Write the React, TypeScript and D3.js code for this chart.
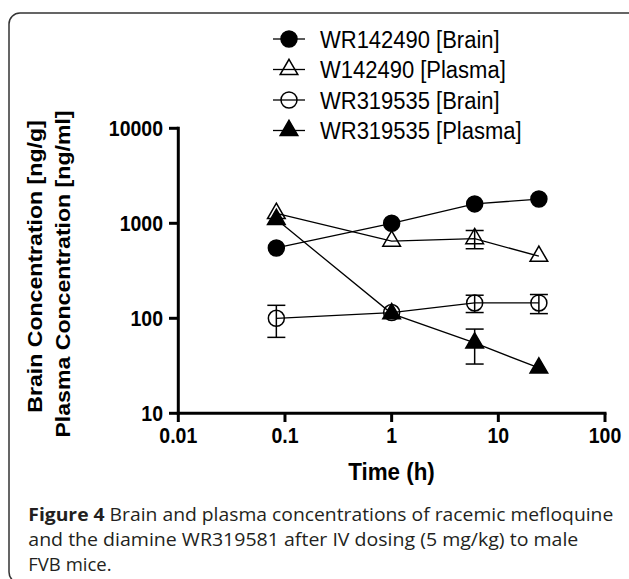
import React, { useEffect, useRef } from "react";
import * as d3 from "d3";

// time points (h)
const times = [0.083, 1, 6, 24];

// concentrations (ng/g brain, ng/ml plasma)
const mqBrain = [550, 1000, 1600, 1800];
const mqPlasma = [1270, 650, 690, 450];
const wrBrain = [100, 115, 145, 145];
const wrPlasma = [1100, 112, 55, 30];

// SEM error bars (0 = none shown)
const mqBrainErr = [0, 0, 0, 0];
const mqPlasmaErr = [0, 0, 150, 0];
const wrBrainErr = [37, 0, 30, 33];
const wrPlasmaErr = [0, 0, 22, 0];

const legendLabels = [
  "WR142490 [Brain]",
  "W142490 [Plasma]",
  "WR319535 [Brain]",
  "WR319535 [Plasma]",
];
const xTicks = [0.01, 0.1, 1, 10, 100];
const xTickLabels = ["0.01", "0.1", "1", "10", "100"];
const yTicks = [10, 100, 1000, 10000];
const yTickLabels = ["10", "100", "1000", "10000"];

const captionBold = "Figure 4";
const captionLines = [
  " Brain and plasma concentrations of racemic mefloquine",
  "and the diamine WR319581 after IV dosing (5 mg/kg) to male",
  "FVB mice.",
];

const W = 629;
const H = 579;
const font = "Liberation Sans, Arial, sans-serif";

export default function App() {
  const ref = useRef<SVGSVGElement>(null);

  useEffect(() => {
    const svg = d3.select(ref.current);
    svg.selectAll("*").remove();

    const x = d3.scaleLog().domain([0.01, 100]).range([178.3, 605]);
    const y = d3.scaleLog().domain([10, 10000]).range([413.3, 128.3]);

    // frame
    svg
      .append("rect")
      .attr("x", 9)
      .attr("y", 13)
      .attr("width", 660)
      .attr("height", 570)
      .attr("rx", 11)
      .attr("fill", "none")
      .attr("stroke", "#333")
      .attr("stroke-width", 1.5);

    const series = [
      { vals: mqBrain, err: mqBrainErr, shape: "circle", filled: true },
      { vals: mqPlasma, err: mqPlasmaErr, shape: "triangle", filled: false },
      { vals: wrBrain, err: wrBrainErr, shape: "circle", filled: false },
      { vals: wrPlasma, err: wrPlasmaErr, shape: "triangle", filled: true },
    ];

    const tri = d3.symbol().type(d3.symbolTriangle).size(135);
    const drawMarker = (g: any, s: any, cx: number, cy: number) => {
      if (s.shape === "circle") {
        g.append("circle")
          .attr("cx", cx)
          .attr("cy", cy)
          .attr("r", 8)
          .attr("fill", s.filled ? "#000" : "none")
          .attr("stroke", "#000")
          .attr("stroke-width", 1.5);
      } else {
        g.append("path")
          .attr("d", tri())
          .attr("transform", `translate(${cx},${cy})`)
          .attr("fill", s.filled ? "#000" : "none")
          .attr("stroke", "#000")
          .attr("stroke-width", 1.5);
      }
    };

    const plot = svg.append("g");
    const line = d3
      .line<number>()
      .x((d, i) => x(times[i]))
      .y((d) => y(d));

    // error bars
    series.forEach((s) => {
      s.vals.forEach((v, i) => {
        const e = s.err[i];
        if (!e) return;
        const cx = x(times[i]);
        const y0 = y(v + e);
        const y1 = y(v - e);
        plot.append("line").attr("x1", cx).attr("x2", cx).attr("y1", y0).attr("y2", y1)
          .attr("stroke", "#000").attr("stroke-width", 1.5);
        [y0, y1].forEach((yy) =>
          plot.append("line").attr("x1", cx - 9).attr("x2", cx + 9).attr("y1", yy).attr("y2", yy)
            .attr("stroke", "#000").attr("stroke-width", 1.5)
        );
      });
    });

    // connecting lines
    series.forEach((s) => {
      plot.append("path").attr("d", line(s.vals)).attr("fill", "none")
        .attr("stroke", "#000").attr("stroke-width", 1.3);
    });

    // markers
    series.forEach((s) => {
      s.vals.forEach((v, i) => drawMarker(plot, s, x(times[i]), y(v)));
    });

    // axes
    const axisG = svg.append("g");
    axisG.append("line").attr("x1", 178.3).attr("x2", 178.3).attr("y1", y(10000) - 1.5).attr("y2", 414.8)
      .attr("stroke", "#000").attr("stroke-width", 3);
    axisG.append("line").attr("x1", 176.8).attr("x2", 606.5).attr("y1", 413.3).attr("y2", 413.3)
      .attr("stroke", "#000").attr("stroke-width", 3);

    yTicks.forEach((t, i) => {
      axisG.append("line").attr("x1", 169).attr("x2", 178.3).attr("y1", y(t)).attr("y2", y(t))
        .attr("stroke", "#000").attr("stroke-width", 3);
      axisG.append("text")
        .attr("transform", `translate(163,${y(t)}) scale(1,1.1)`)
        .attr("y", 7)
        .attr("text-anchor", "end")
        .attr("font-family", font)
        .attr("font-weight", "bold")
        .attr("font-size", 19.5)
        .text(yTickLabels[i]);
    });

    xTicks.forEach((t, i) => {
      axisG.append("line").attr("x1", x(t)).attr("x2", x(t)).attr("y1", 413.3).attr("y2", 422)
        .attr("stroke", "#000").attr("stroke-width", 3);
      axisG.append("text")
        .attr("transform", `translate(${x(t)},443) scale(1,1.1)`)
        .attr("text-anchor", "middle")
        .attr("font-family", font)
        .attr("font-weight", "bold")
        .attr("font-size", 19.5)
        .text(xTickLabels[i]);
    });

    // axis titles
    svg.append("text")
      .attr("transform", "translate(391.5,480) scale(1,1.1)")
      .attr("text-anchor", "middle")
      .attr("font-family", font)
      .attr("font-weight", "bold")
      .attr("font-size", 22.4)
      .text("Time (h)");

    svg.append("text")
      .attr("transform", "translate(42,266.5) rotate(-90) scale(1.1,1)")
      .attr("text-anchor", "middle")
      .attr("font-family", font)
      .attr("font-weight", "bold")
      .attr("font-size", 21)
      .text("Brain Concentration [ng/g]");
    svg.append("text")
      .attr("transform", "translate(70,274) rotate(-90) scale(1.1,1)")
      .attr("text-anchor", "middle")
      .attr("font-family", font)
      .attr("font-weight", "bold")
      .attr("font-size", 21)
      .text("Plasma Concentration [ng/ml]");

    // legend
    const leg = svg.append("g");
    series.forEach((s, i) => {
      const cy = 39 + i * 30.5;
      leg.append("line").attr("x1", 273).attr("x2", 305).attr("y1", cy).attr("y2", cy)
        .attr("stroke", "#000").attr("stroke-width", 1.3);
      drawMarker(leg, s, 289, cy);
      leg.append("text")
        .attr("transform", `translate(320,${cy}) scale(1,1.1)`)
        .attr("y", 7.9)
        .attr("font-family", font)
        .attr("font-size", 22)
        .text(legendLabels[i]);
    });

    // caption
    const cap = svg.append("g")
      .attr("font-family", "Open Sans, Noto Sans, sans-serif")
      .attr("font-size", 18.5)
      .attr("fill", "#231f20");
    const widths = [585, 550, 0];
    captionLines.forEach((txt, i) => {
      const t = cap.append("text").attr("x", 28.3).attr("y", 521 + i * 25);
      if (widths[i]) t.attr("textLength", widths[i]).attr("lengthAdjust", "spacingAndGlyphs");
      if (i === 0) t.append("tspan").attr("font-weight", "bold").text(captionBold);
      t.append("tspan").text(txt);
    });
  }, []);

  return (
    <svg
      ref={ref}
      width={W}
      height={H}
      style={{ position: "absolute", left: 0, top: 0, background: "#fff" }}
    />
  );
}
